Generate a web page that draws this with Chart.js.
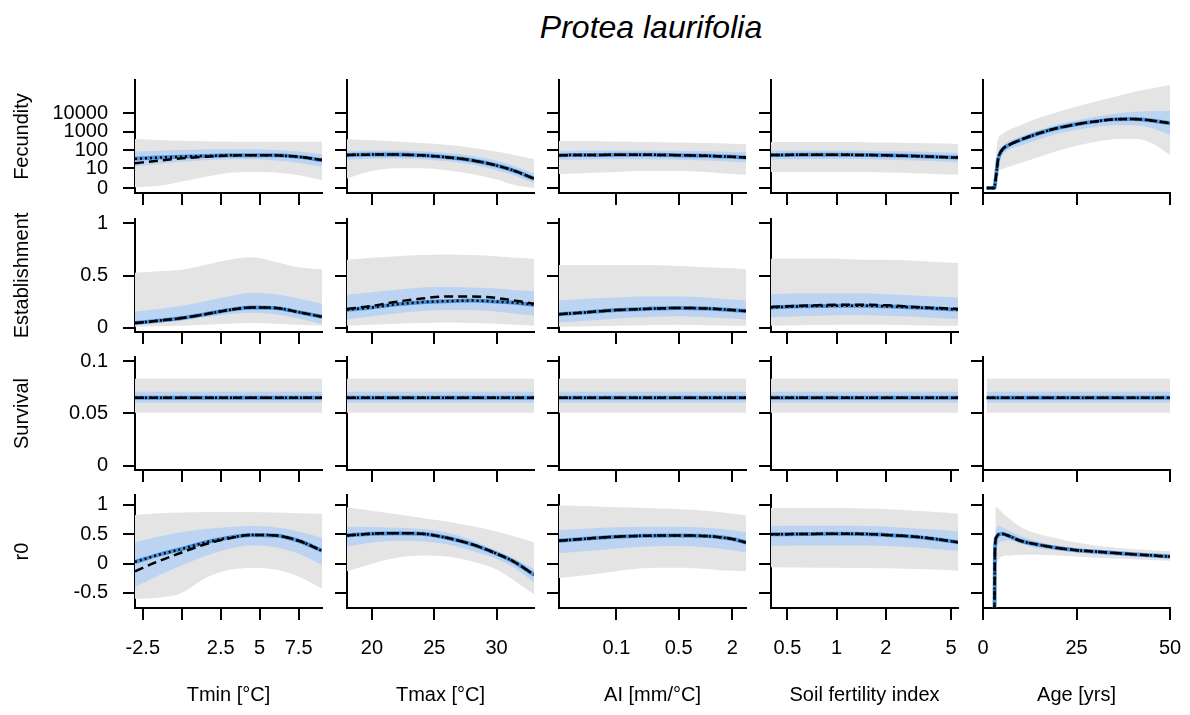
<!DOCTYPE html>
<html>
<head>
<meta charset="utf-8">
<title>Protea laurifolia</title>
<script src="https://cdn.jsdelivr.net/npm/chart.js@4.4.0/dist/chart.umd.min.js"></script>
<style>
  body { margin: 0; background: #fff; }
  #page { position: relative; width: 1190px; height: 715px; overflow: hidden; background: #fff; }
  #title {
    position: absolute; left: 451px; top: 8px; width: 400px; text-align: center;
    font: italic 32px/38px "Liberation Sans", Arial, sans-serif; color: #000;
  }
</style>
</head>
<body>
<div id="page"><div id="title">Protea laurifolia</div></div>
<script>
// x grids for each predictor
const tminX = [-3, -1.5, 0, 1.5, 3, 4.5, 6, 7.5, 9];
const tmaxX = [18, 20, 22, 24, 26, 28, 30, 31.5, 33];
const aiX = [0.0227, 0.05, 0.1, 0.2, 0.5, 1, 2, 2.85];
const soilX = [0.397, 0.6, 1, 1.5, 2, 3, 4, 5.52];
const ageFecX = [1, 3, 3.4, 3.7, 4, 5, 7, 10, 15, 20, 25, 30, 35, 40, 45, 50];
const ageSurvX = [1, 50];
const ageR0X = [2.9, 3.2, 3.6, 4, 5, 7, 10, 15, 20, 25, 30, 40, 50];
const ageR0BandX = [3.3, 4, 5, 7, 10, 15, 20, 25, 30, 40, 50];

// tick positions and labels
const tminTicks = [-2.5, 0, 2.5, 5, 7.5];
const tminLabels = ['-2.5', '', '2.5', '5', '7.5'];
const tmaxTicks = [20, 25, 30];
const aiTicks = [0.1, 0.5, 2];
const soilTicks = [0.5, 1, 2, 5];
const ageTicks = [0, 25, 50];
const fecTicks = [0, 10, 100, 1000, 10000];
const estTicks = [0, 0.5, 1];
const survTicks = [0, 0.05, 0.1];
const r0Ticks = [-0.5, 0, 0.5, 1];

// fecundity values are log10(seeds + 1)
// mean = dashed, median = dotted + blue line, inner = blue band, outer = grey band
const fecTmin = {
  mean:   [1.32, 1.46, 1.58, 1.67, 1.73, 1.75, 1.74, 1.66, 1.49],
  median: [1.56, 1.62, 1.67, 1.71, 1.74, 1.75, 1.74, 1.66, 1.49],
  inner: [[1.14, 1.28, 1.40, 1.48, 1.53, 1.53, 1.46, 1.33, 1.14],
          [1.94, 1.99, 2.03, 2.05, 2.06, 2.06, 2.03, 1.95, 1.81]],
  outer: [[0.04, 0.10, 0.34, 0.60, 0.80, 0.85, 0.82, 0.68, 0.43],
          [2.61, 2.56, 2.52, 2.49, 2.47, 2.47, 2.47, 2.47, 2.47]]
};
const fecTmax = {
  mean:  [1.76, 1.78, 1.78, 1.74, 1.64, 1.48, 1.20, 0.90, 0.50],
  inner: [[1.50, 1.56, 1.57, 1.53, 1.42, 1.25, 0.95, 0.65, 0.25],
          [1.98, 2.00, 2.00, 1.96, 1.86, 1.72, 1.45, 1.15, 0.78]],
  outer: [[0.50, 0.90, 1.05, 1.05, 0.95, 0.75, 0.45, 0.15, 0.00],
          [2.60, 2.55, 2.48, 2.40, 2.30, 2.15, 1.95, 1.75, 1.55]]
};
const fecAI = {
  mean:  [1.75, 1.76, 1.77, 1.77, 1.75, 1.72, 1.66, 1.62],
  inner: [[1.50, 1.52, 1.53, 1.53, 1.50, 1.46, 1.40, 1.36],
          [1.98, 2.00, 2.00, 2.00, 1.98, 1.96, 1.92, 1.90]],
  outer: [[0.75, 0.80, 0.85, 0.90, 0.90, 0.85, 0.75, 0.70],
          [2.50, 2.50, 2.48, 2.45, 2.42, 2.40, 2.36, 2.34]]
};
const fecSoil = {
  mean:  [1.76, 1.77, 1.77, 1.76, 1.74, 1.70, 1.66, 1.62],
  inner: [[1.52, 1.53, 1.54, 1.53, 1.50, 1.46, 1.42, 1.36],
          [2.00, 2.00, 2.00, 1.99, 1.97, 1.94, 1.90, 1.87]],
  outer: [[0.85, 0.85, 0.85, 0.85, 0.82, 0.78, 0.74, 0.70],
          [2.45, 2.45, 2.45, 2.44, 2.42, 2.40, 2.38, 2.35]]
};
const fecAge = {
  mean:  [0, 0, 0.5, 1.0, 1.5, 2.0, 2.3, 2.56, 2.92, 3.2, 3.4, 3.55, 3.66, 3.68, 3.6, 3.45],
  inner: [[0, 0, 0.3, 0.75, 1.2, 1.7, 2.05, 2.25, 2.6, 2.9, 3.1, 3.25, 3.35, 3.35, 3.2, 2.83],
          [0, 0, 0.7, 1.3, 1.9, 2.2, 2.5, 2.75, 3.1, 3.4, 3.6, 3.8, 3.95, 4.05, 4.1, 4.12]],
  outer: [[0, 0, 0.3, 0.7, 0.9, 1.0, 1.15, 1.33, 1.65, 1.98, 2.25, 2.47, 2.6, 2.62, 2.4, 1.76],
          [0, 0, 1.5, 2.2, 2.6, 2.85, 3.1, 3.35, 3.75, 4.05, 4.35, 4.6, 4.85, 5.1, 5.3, 5.49]]
};

// establishment probability
const estTmin = {
  mean:  [0.045, 0.068, 0.093, 0.13, 0.17, 0.195, 0.19, 0.15, 0.106],
  inner: [[0.035, 0.05, 0.067, 0.10, 0.13, 0.145, 0.13, 0.09, 0.035],
          [0.157, 0.18, 0.21, 0.255, 0.30, 0.335, 0.32, 0.28, 0.23]],
  outer: [[0.01, 0.015, 0.02, 0.03, 0.04, 0.045, 0.04, 0.03, 0.02],
          [0.526, 0.54, 0.555, 0.60, 0.65, 0.675, 0.63, 0.58, 0.56]]
};
const estTmax = {
  mean:   [0.18, 0.21, 0.25, 0.28, 0.30, 0.30, 0.285, 0.26, 0.23],
  median: [0.173, 0.195, 0.225, 0.245, 0.255, 0.26, 0.25, 0.24, 0.22],
  inner: [[0.083, 0.11, 0.14, 0.16, 0.17, 0.17, 0.155, 0.135, 0.115],
          [0.317, 0.34, 0.365, 0.385, 0.39, 0.385, 0.375, 0.36, 0.35]],
  outer: [[0.02, 0.03, 0.04, 0.045, 0.05, 0.045, 0.04, 0.03, 0.02],
          [0.65, 0.67, 0.685, 0.695, 0.70, 0.695, 0.685, 0.67, 0.66]]
};
const estAI = {
  mean:  [0.13, 0.15, 0.17, 0.18, 0.19, 0.185, 0.17, 0.16],
  inner: [[0.05, 0.07, 0.09, 0.10, 0.11, 0.10, 0.09, 0.08],
          [0.26, 0.28, 0.29, 0.30, 0.30, 0.29, 0.27, 0.26]],
  outer: [[0.01, 0.015, 0.02, 0.025, 0.03, 0.025, 0.02, 0.02],
          [0.60, 0.60, 0.60, 0.60, 0.59, 0.58, 0.57, 0.56]]
};
const estSoil = {
  mean:   [0.20, 0.21, 0.22, 0.22, 0.215, 0.20, 0.19, 0.18],
  median: [0.195, 0.205, 0.21, 0.21, 0.205, 0.195, 0.185, 0.175],
  inner: [[0.10, 0.11, 0.12, 0.12, 0.115, 0.105, 0.095, 0.085],
          [0.32, 0.33, 0.33, 0.33, 0.32, 0.31, 0.30, 0.29]],
  outer: [[0.02, 0.025, 0.03, 0.03, 0.03, 0.025, 0.02, 0.02],
          [0.66, 0.66, 0.66, 0.65, 0.65, 0.64, 0.63, 0.62]]
};

// survival is constant along every predictor
const survival = {
  mean:  [0.0651, 0.0651],
  inner: [[0.0603, 0.0603], [0.0708, 0.0708]],
  outer: [[0.0507, 0.0507], [0.0833, 0.0833]]
};

// population growth rate r0
const r0Tmin = {
  mean:   [-0.13, 0.04, 0.19, 0.33, 0.43, 0.49, 0.48, 0.39, 0.22],
  median: [0.03, 0.15, 0.25, 0.36, 0.44, 0.49, 0.48, 0.39, 0.22],
  inner: [[-0.40, -0.20, -0.03, 0.13, 0.25, 0.31, 0.28, 0.17, -0.02],
          [0.365, 0.46, 0.535, 0.59, 0.62, 0.64, 0.62, 0.55, 0.44]],
  outer: [[-0.60, -0.58, -0.50, -0.25, -0.11, -0.075, -0.10, -0.22, -0.43],
          [0.83, 0.86, 0.87, 0.88, 0.88, 0.88, 0.87, 0.86, 0.85]]
};
const r0Tmax = {
  mean:  [0.48, 0.51, 0.52, 0.51, 0.44, 0.33, 0.17, 0.02, -0.19],
  inner: [[0.29, 0.36, 0.39, 0.38, 0.33, 0.22, 0.08, -0.08, -0.32],
          [0.63, 0.625, 0.61, 0.59, 0.53, 0.40, 0.22, 0.08, -0.09]],
  outer: [[-0.13, 0.0, 0.10, 0.137, 0.12, 0.04, -0.10, -0.30, -0.52],
          [0.96, 0.90, 0.84, 0.78, 0.72, 0.64, 0.55, 0.46, 0.365]]
};
const r0AI = {
  mean:  [0.39, 0.43, 0.46, 0.475, 0.48, 0.47, 0.42, 0.36],
  inner: [[0.177, 0.22, 0.26, 0.29, 0.30, 0.28, 0.23, 0.19],
          [0.575, 0.60, 0.62, 0.63, 0.63, 0.61, 0.57, 0.535]],
  outer: [[-0.245, -0.19, -0.13, -0.08, -0.07, -0.09, -0.12, -0.13],
          [0.99, 0.98, 0.96, 0.95, 0.93, 0.90, 0.85, 0.82]]
};
const r0Soil = {
  mean:  [0.50, 0.505, 0.51, 0.505, 0.49, 0.46, 0.42, 0.365],
  inner: [[0.30, 0.31, 0.31, 0.31, 0.30, 0.28, 0.25, 0.22],
          [0.64, 0.645, 0.645, 0.64, 0.63, 0.60, 0.58, 0.55]],
  outer: [[-0.06, -0.065, -0.07, -0.075, -0.08, -0.09, -0.10, -0.12],
          [0.95, 0.95, 0.95, 0.94, 0.93, 0.90, 0.88, 0.85]]
};
const r0Age = {
  mean:  [-3, 0.25, 0.45, 0.49, 0.51, 0.47, 0.39, 0.32, 0.265, 0.23, 0.205, 0.16, 0.12],
  bandX: ageR0BandX,
  inner: [[0.20, 0.33, 0.38, 0.40, 0.34, 0.26, 0.225, 0.19, 0.16, 0.12, 0.08],
          [0.55, 0.65, 0.62, 0.56, 0.47, 0.37, 0.30, 0.26, 0.23, 0.19, 0.165]],
  outer: [[-0.10, 0.05, 0.12, 0.14, 0.15, 0.15, 0.14, 0.12, 0.10, 0.075, 0.05],
          [0.96, 0.95, 0.88, 0.77, 0.63, 0.50, 0.43, 0.36, 0.31, 0.25, 0.21]]
};

const FONT = '"Liberation Sans", Arial, sans-serif';
const GREY = '#e4e4e4';
const BLUE = '#bcd3f1';
const BLUE_LINE = '#4d93dc';

// panel geometry (px); PAD leaves room for label overhang around each plot
const colX = [135, 347, 559, 771, 983];
const rowTop = [80, 219, 357, 495];
const PLOT_W = 187, PLOT_H = 113, LEFT = 135, PAD = 32;

const xAxes = [
  { title: 'Tmin [°C]', type: 'linear', min: -3, max: 9, ticks: tminTicks, labels: tminLabels },
  { title: 'Tmax [°C]', type: 'linear', min: 18, max: 33, ticks: tmaxTicks, labels: tmaxTicks.map(String) },
  { title: 'AI [mm/°C]', type: 'logarithmic', min: 0.0227, max: 2.85, ticks: aiTicks, labels: aiTicks.map(String) },
  { title: 'Soil fertility index', type: 'logarithmic', min: 0.397, max: 5.52, ticks: soilTicks, labels: soilTicks.map(String) },
  { title: 'Age [yrs]', type: 'linear', min: 0, max: 50, ticks: ageTicks, labels: ageTicks.map(String) }
];
const yAxes = [
  { title: 'Fecundity', min: -0.267, max: 5.76, ticks: fecTicks.map(v => Math.log10(v + 1)), labels: fecTicks.map(String) },
  { title: 'Establishment', min: -0.04, max: 1.04, ticks: estTicks, labels: estTicks.map(String) },
  { title: 'Survival', min: -0.004, max: 0.104, ticks: survTicks, labels: survTicks.map(String) },
  { title: 'r0', min: -0.756, max: 1.17, ticks: r0Ticks, labels: r0Ticks.map(String) }
];

const panels = [
  [0, 0, tminX, fecTmin], [0, 1, tmaxX, fecTmax], [0, 2, aiX, fecAI], [0, 3, soilX, fecSoil], [0, 4, ageFecX, fecAge],
  [1, 0, tminX, estTmin], [1, 1, tmaxX, estTmax], [1, 2, aiX, estAI], [1, 3, soilX, estSoil],
  [2, 0, [-3, 9], survival], [2, 1, [18, 33], survival], [2, 2, [0.0227, 2.85], survival],
  [2, 3, [0.397, 5.52], survival], [2, 4, ageSurvX, survival],
  [3, 0, tminX, r0Tmin], [3, 1, tmaxX, r0Tmax], [3, 2, aiX, r0AI], [3, 3, soilX, r0Soil], [3, 4, ageR0X, r0Age]
];

const pts = (xs, ys) => xs.map((x, i) => ({ x: x, y: ys[i] }));
const axisLine = { drawOnChartArea: false, drawTicks: true, tickLength: 12, color: '#000', lineWidth: 2 };
const axisBorder = { display: true, color: '#000', width: 2 };
const tickFont = { family: FONT, size: 20 };

const page = document.getElementById('page');

panels.forEach(([row, col, xs, d]) => {
  const ax = xAxes[col];
  const ay = yAxes[row];
  const isBottom = row === 3;
  const bottomH = isBottom ? 715 - rowTop[3] - PLOT_H : PAD;
  const bx = d.bandX || xs;
  const med = d.median || d.mean;

  const canvas = document.createElement('canvas');
  canvas.width = LEFT + PLOT_W + PAD;
  canvas.height = PAD + PLOT_H + bottomH;
  canvas.style.position = 'absolute';
  canvas.style.left = (colX[col] - LEFT) + 'px';
  canvas.style.top = (rowTop[row] - PAD) + 'px';
  page.appendChild(canvas);

  const band = { borderWidth: 0, pointRadius: 0 };
  new Chart(canvas, {
    type: 'line',
    data: {
      datasets: [
        Object.assign({ data: pts(bx, d.outer[0]), fill: false, order: 6 }, band),
        Object.assign({ data: pts(bx, d.outer[1]), fill: '-1', backgroundColor: GREY, order: 5 }, band),
        Object.assign({ data: pts(bx, d.inner[0]), fill: false, order: 4 }, band),
        Object.assign({ data: pts(bx, d.inner[1]), fill: '-1', backgroundColor: BLUE, order: 3 }, band),
        { data: pts(xs, med), borderColor: BLUE_LINE, borderWidth: 4, fill: false, order: 2 },
        { data: pts(xs, d.mean), borderColor: '#000', borderWidth: 2.5, borderDash: [9, 5], fill: false, order: 1 },
        { data: pts(xs, med), borderColor: '#000', borderWidth: 2.5, borderDash: [2, 3], fill: false, order: 0 }
      ]
    },
    options: {
      responsive: false,
      animation: false,
      events: [],
      layout: { padding: { top: PAD, right: PAD, left: 0, bottom: 0 } },
      elements: {
        point: { radius: 0 },
        line: { cubicInterpolationMode: 'monotone' }
      },
      plugins: { legend: { display: false }, tooltip: { enabled: false } },
      scales: {
        x: {
          type: ax.type,
          min: ax.min,
          max: ax.max,
          afterBuildTicks: s => { s.ticks = ax.ticks.map(v => ({ value: v })); },
          afterFit: s => { s.height = bottomH; },
          grid: axisLine,
          border: axisBorder,
          ticks: {
            display: isBottom, autoSkip: false, maxRotation: 0, padding: 16,
            color: '#000', font: tickFont,
            callback: (v, i) => ax.labels[i]
          },
          title: {
            display: isBottom, text: ax.title, color: '#000', font: tickFont,
            padding: { top: 0, bottom: 8 }
          }
        },
        y: {
          type: 'linear',
          min: ay.min,
          max: ay.max,
          afterBuildTicks: s => { s.ticks = ay.ticks.map(v => ({ value: v })); },
          afterFit: s => { s.width = LEFT; },
          grid: axisLine,
          border: axisBorder,
          ticks: {
            display: col === 0, autoSkip: false, padding: 15,
            color: '#000', font: tickFont,
            callback: (v, i) => ay.labels[i]
          },
          title: {
            display: col === 0, text: ay.title, color: '#000', font: tickFont,
            padding: { top: 10, bottom: 0 }
          }
        }
      }
    }
  });
});
</script>
</body>
</html>
